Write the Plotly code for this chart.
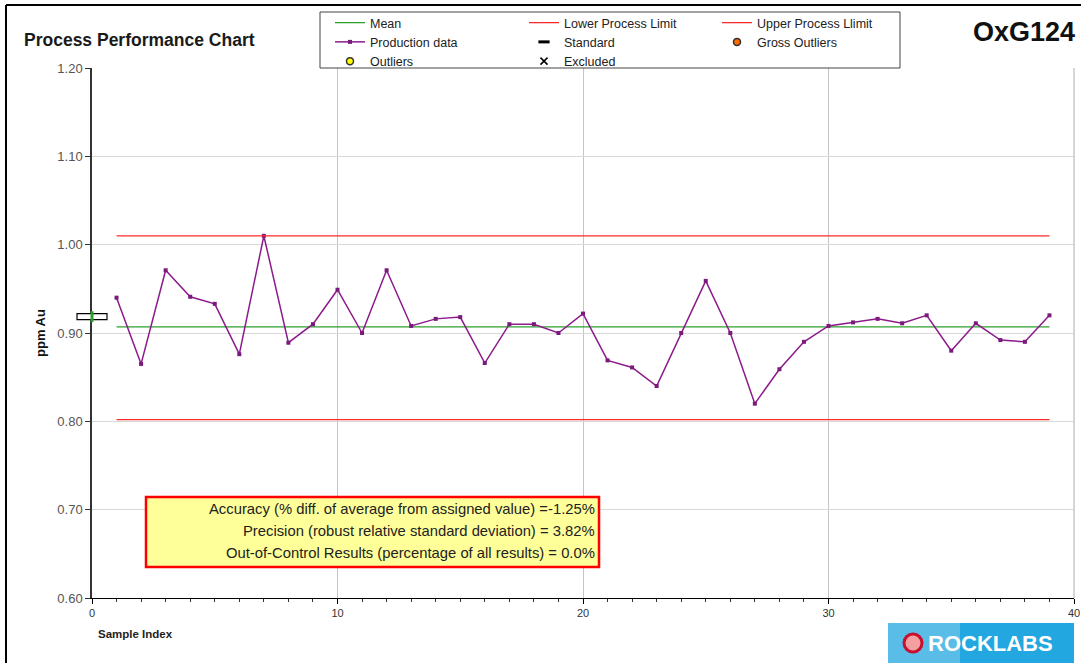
import plotly.graph_objects as go

# ---------------- data ----------------
sample_index = list(range(1, 40))
production = [0.940, 0.865, 0.971, 0.941, 0.933, 0.876, 1.010, 0.889, 0.910, 0.949,
              0.900, 0.971, 0.908, 0.916, 0.918, 0.866, 0.910, 0.910, 0.900, 0.922,
              0.869, 0.861, 0.840, 0.900, 0.959, 0.900, 0.820, 0.859, 0.890, 0.908,
              0.912, 0.916, 0.911, 0.920, 0.880, 0.911, 0.892, 0.890, 0.920]
mean_value = 0.907
lower_limit = 0.802
upper_limit = 1.010
standard_value = 0.9185
standard_tolerance = 0.0062

x_ticks = [0, 10, 20, 30, 40]
y_ticks = [0.60, 0.70, 0.80, 0.90, 1.00, 1.10, 1.20]
stats_lines = [
    "Accuracy (% diff. of average from assigned value) =-1.25%",
    "Precision (robust relative standard deviation) = 3.82%",
    "Out-of-Control Results (percentage of all results) = 0.0%",
]
X_RANGE = [0, 40]
Y_RANGE = [0.6, 1.2]

FONT = "Liberation Sans, Arial, sans-serif"
W, H = 1081, 663
ML, MR, MT, MB = 92, 7, 68, 65
PW, PH = W - ML - MR, H - MT - MB


def px(xp):
    return (xp - ML) / PW


def py(yp):
    return (H - MB - yp) / PH


n = len(sample_index)
fig = go.Figure()

# legend column 1
fig.add_trace(go.Scatter(x=sample_index, y=[mean_value] * n, mode="lines", name="Mean",
                         line=dict(color="#2ca02c", width=1.3), legend="legend"))
fig.add_trace(go.Scatter(x=sample_index, y=production, mode="lines+markers", name="Production data",
                         line=dict(color="#8b1a8b", width=1.5),
                         marker=dict(symbol="square", size=4, color="#7a1a7a"), legend="legend"))
fig.add_trace(go.Scatter(x=[None], y=[None], mode="markers", name="Outliers",
                         marker=dict(symbol="circle", size=7, color="#ffff00",
                                     line=dict(color="#333333", width=1.5)), legend="legend"))
# legend column 2
fig.add_trace(go.Scatter(x=sample_index, y=[lower_limit] * n, mode="lines", name="Lower Process Limit",
                         line=dict(color="#ff2a2a", width=1.3), legend="legend2"))
fig.add_trace(go.Scatter(x=[None], y=[None], mode="markers", name="Standard",
                         marker=dict(symbol="line-ew", size=8, color="black",
                                     line=dict(color="black", width=3)), legend="legend2"))
fig.add_trace(go.Scatter(x=[None], y=[None], mode="markers", name="Excluded",
                         marker=dict(symbol="x-thin", size=7, color="black",
                                     line=dict(color="black", width=1.5)), legend="legend2"))
# legend column 3
fig.add_trace(go.Scatter(x=sample_index, y=[upper_limit] * n, mode="lines", name="Upper Process Llimit",
                         line=dict(color="#ff2a2a", width=1.3), legend="legend3"))
fig.add_trace(go.Scatter(x=[None], y=[None], mode="markers", name="Gross Outliers",
                         marker=dict(symbol="circle", size=7, color="#ff6a00",
                                     line=dict(color="#333333", width=1.5)), legend="legend3"))

legend_common = dict(bgcolor="rgba(0,0,0,0)", borderwidth=0, tracegroupgap=0,
                     font=dict(family=FONT, size=12.5, color="#222222"),
                     yanchor="top", xanchor="left", orientation="v", itemclick=False)

shapes = []
# legend box
shapes.append(dict(type="rect", xref="paper", yref="paper", x0=px(320), x1=px(900), y0=py(68), y1=py(12),
                   line=dict(color="#444444", width=1), fillcolor="rgba(0,0,0,0)", layer="above"))
# outer frame (top and left)
shapes.append(dict(type="line", xref="paper", yref="paper", x0=px(6), x1=px(1081), y0=py(5), y1=py(5),
                   line=dict(color="black", width=2)))
shapes.append(dict(type="line", xref="paper", yref="paper", x0=px(6), x1=px(6), y0=py(5), y1=py(663),
                   line=dict(color="black", width=2)))
# right plot edge
shapes.append(dict(type="line", xref="paper", yref="paper", x0=1, x1=1, y0=0, y1=1,
                   line=dict(color="#c8c8c8", width=1.5)))
# standard marker at x=0
std_p = (standard_value - Y_RANGE[0]) / (Y_RANGE[1] - Y_RANGE[0])
half_h = 3 / PH
shapes.append(dict(type="rect", xref="paper", yref="paper", x0=-15 / PW, x1=15 / PW,
                   y0=std_p - half_h, y1=std_p + half_h,
                   line=dict(color="black", width=1.2), fillcolor="white", layer="above"))
tol_p = standard_tolerance / (Y_RANGE[1] - Y_RANGE[0])
shapes.append(dict(type="line", xref="paper", yref="paper", x0=0, x1=0,
                   y0=std_p - tol_p, y1=std_p + tol_p,
                   line=dict(color="#2ca02c", width=3), layer="above"))
# stats box
shapes.append(dict(type="rect", xref="paper", yref="paper", x0=px(146), x1=px(599), y0=py(567), y1=py(497),
                   line=dict(color="#ff0000", width=2.5), fillcolor="#ffff99", layer="above"))
# logo
shapes.append(dict(type="rect", xref="paper", yref="paper", x0=px(888), x1=px(1074), y0=py(663), y1=py(623),
                   line=dict(width=0), fillcolor="#22a7e0", layer="above"))
shapes.append(dict(type="rect", xref="paper", yref="paper", x0=px(888), x1=px(960), y0=py(663), y1=py(623),
                   line=dict(width=0), fillcolor="rgba(255,255,255,0.25)", layer="above"))
shapes.append(dict(type="circle", xref="paper", yref="paper", x0=px(904), x1=px(922), y0=py(652), y1=py(634),
                   line=dict(color="#c8102e", width=3), fillcolor="#f5a0a0", layer="above"))

annotations = []
annotations.append(dict(text="<b>Process Performance Chart</b>", xref="paper", yref="paper",
                        x=px(22), y=py(40), xanchor="left", yanchor="middle", showarrow=False,
                        font=dict(family=FONT, size=17.5, color="#1a1a1a")))
annotations.append(dict(text="<b>OxG124</b>", xref="paper", yref="paper",
                        x=px(1077), y=py(32), xanchor="right", yanchor="middle", showarrow=False,
                        font=dict(family=FONT, size=27, color="#111111")))
annotations.append(dict(text="<b>ppm Au</b>", xref="paper", yref="paper", textangle=-90,
                        x=px(40), y=py(333), xanchor="center", yanchor="middle", showarrow=False,
                        font=dict(family=FONT, size=13, color="#111111")))
annotations.append(dict(text="<b>Sample Index</b>", xref="paper", yref="paper",
                        x=px(96), y=py(634), xanchor="left", yanchor="middle", showarrow=False,
                        font=dict(family=FONT, size=11.5, color="#222222")))
for i, line in enumerate(stats_lines):
    annotations.append(dict(text=line, xref="paper", yref="paper",
                            x=px(597), y=py(509 + 22 * i), xanchor="right", yanchor="middle",
                            showarrow=False, font=dict(family=FONT, size=14.8, color="#222222")))
annotations.append(dict(text="<b>ROCKLABS</b>", xref="paper", yref="paper",
                        x=px(990), y=py(643), xanchor="center", yanchor="middle", showarrow=False,
                        font=dict(family=FONT, size=22, color="white")))

fig.update_layout(
    width=W, height=H,
    margin=dict(l=ML, r=MR, t=MT, b=MB, autoexpand=False),
    paper_bgcolor="white", plot_bgcolor="white",
    showlegend=True,
    legend=dict(x=px(330), y=py(8), **legend_common),
    legend2=dict(x=px(524), y=py(8), **legend_common),
    legend3=dict(x=px(717), y=py(8), **legend_common),
    shapes=shapes, annotations=annotations,
    xaxis=dict(range=X_RANGE, tickvals=x_ticks, ticktext=[str(v) for v in x_ticks],
               showgrid=True, gridcolor="#c4c4c4", gridwidth=1.3, zeroline=False,
               showline=True, linecolor="black", linewidth=1.2,
               ticks="outside", ticklen=5, tickcolor="black",
               minor=dict(dtick=1, ticks="outside", ticklen=3, tickcolor="#333333", showgrid=False),
               tickfont=dict(family=FONT, size=11, color="#333333")),
    yaxis=dict(range=Y_RANGE, tickvals=y_ticks, ticktext=["%.2f" % v for v in y_ticks],
               showgrid=True, gridcolor="#d9d9d9", gridwidth=1.3, zeroline=False,
               showline=True, linecolor="#333333", linewidth=1.5,
               ticks="outside", ticklen=5, tickcolor="#333333",
               tickfont=dict(family=FONT, size=13, color="#555555")),
)

fig.write_html("out.html", config={"displayModeBar": False},
               post_script="document.body.style.margin='0px';document.body.style.overflow='hidden';")
